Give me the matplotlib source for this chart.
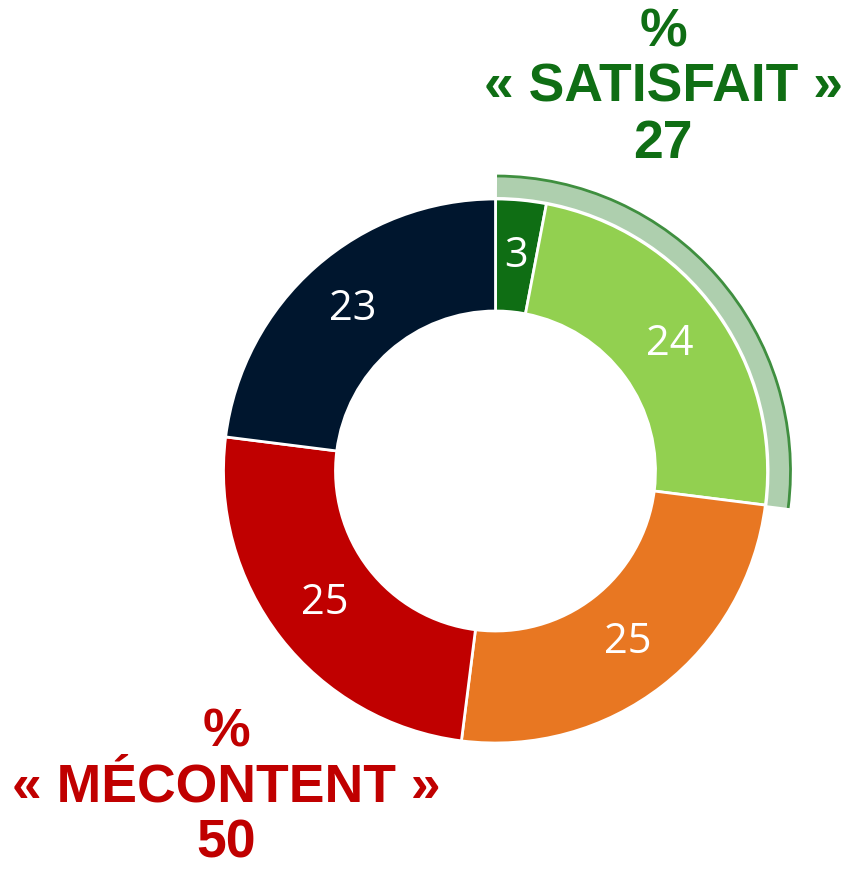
import matplotlib.pyplot as plt
from matplotlib.patches import Wedge, Arc

# répartition des réponses (%)
values = [3, 24, 25, 25, 23]
colors = ["#0F6E14", "#92D050", "#E87722", "#C00000", "#00162E"]
satisfait = values[0] + values[1]
mecontent = values[2] + values[3]

W, H = 851, 869
cx, cy = 495.5, H - 471
r_out, r_in = 272, 160

fig = plt.figure(figsize=(W / 100, H / 100), dpi=100)
ax = fig.add_axes([0, 0, 1, 1])
ax.set_xlim(0, W)
ax.set_ylim(0, H)
ax.set_aspect("equal")
ax.axis("off")

wedges, texts = ax.pie(
    values, colors=colors, startangle=90, counterclock=False,
    center=(cx, cy), radius=r_out, labels=[str(v) for v in values],
    labeldistance=216 / r_out,
    wedgeprops=dict(width=r_out - r_in, edgecolor="white", linewidth=2),
    textprops=dict(color="white", fontsize=30, family="Open Sans",
                   ha="center", va="center"),
)
ax.set_xlim(0, W)
ax.set_ylim(0, H)

# bande qui regroupe les « satisfait »
theta1 = 90 - satisfait / 100 * 360
theta2 = 90 - 0.3
ax.add_patch(Wedge((cx, cy), 295, theta1, theta2, width=21,
                   facecolor="#AECFAE", edgecolor="none"))
ax.add_patch(Arc((cx, cy), 2 * 295, 2 * 295, theta1=theta1, theta2=theta2,
                 color="#3F8F3F", linewidth=2))

title_kw = dict(ha="center", va="center", fontsize=38.5, fontweight="bold",
                family="Liberation Sans", linespacing=1.15)
ax.text(663, H - 88, f"%\n« SATISFAIT »\n{satisfait}", color="#0F6E14",
        **title_kw)
ax.text(226, H - 788, f"%\n« MÉCONTENT »\n{mecontent}", color="#C00000",
        **title_kw)

fig.savefig("out.png", dpi=100)
